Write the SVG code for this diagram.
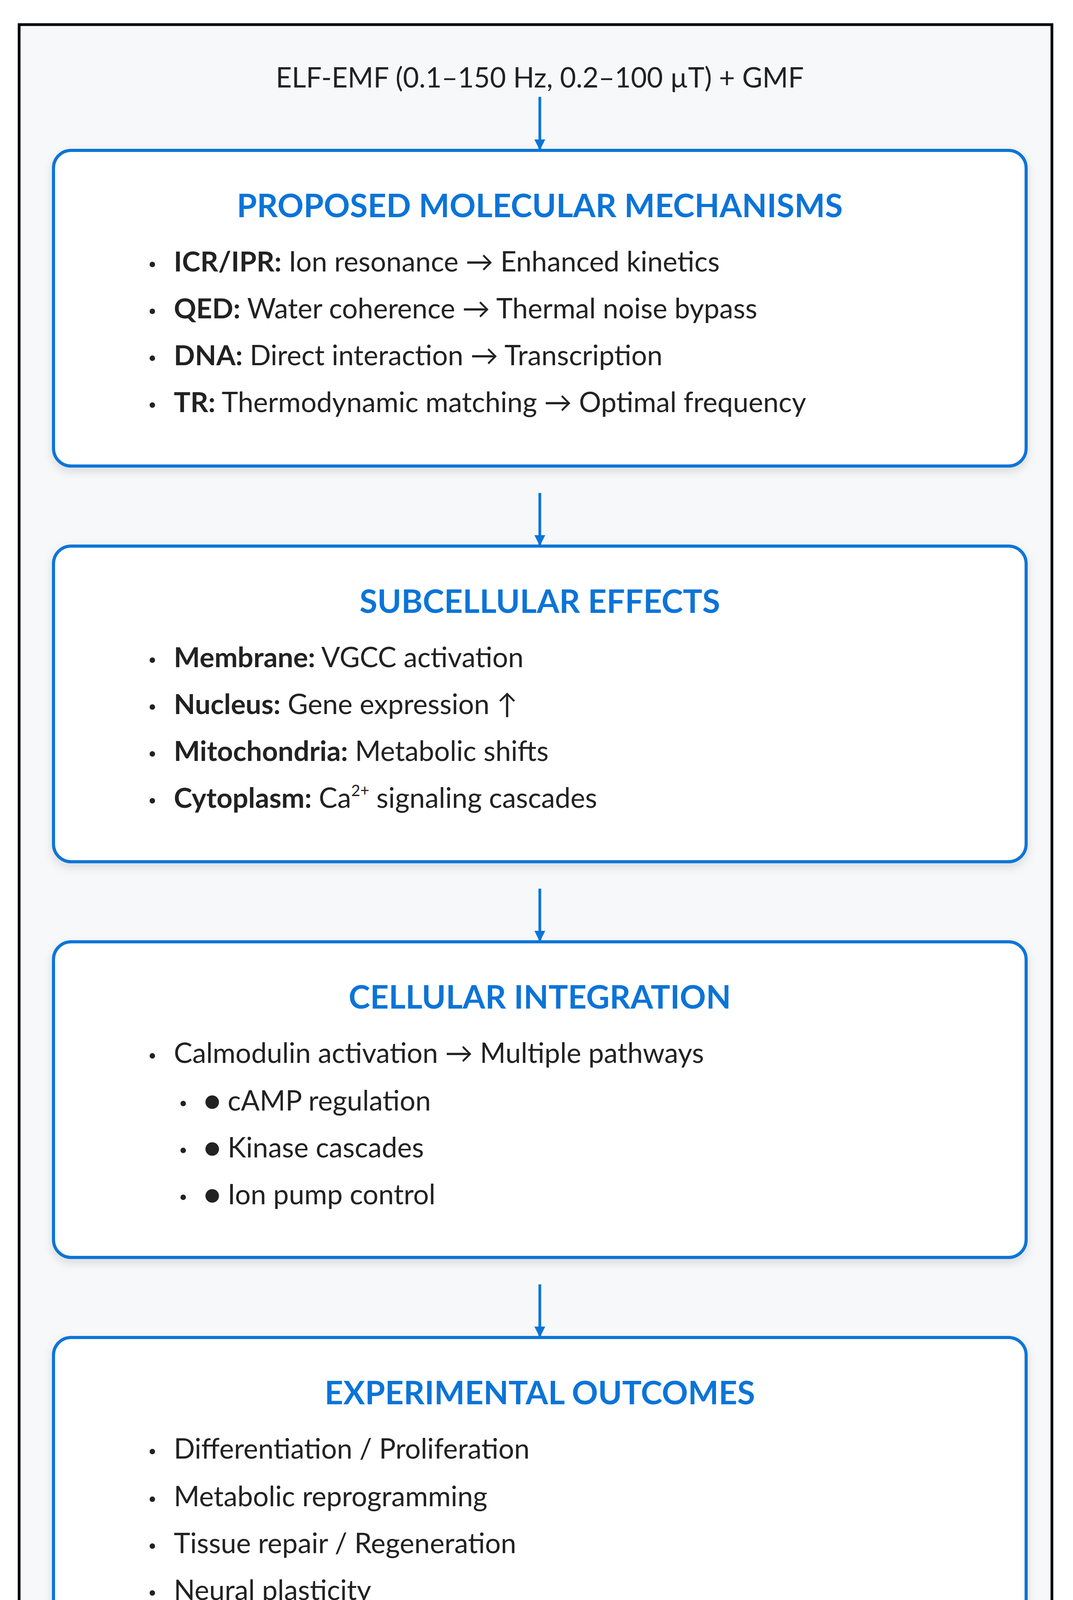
<svg xmlns="http://www.w3.org/2000/svg" width="2747" height="4349" viewBox="0 0 2747 4349">
<style>
.box{fill:#fff;stroke:#0b74d8;stroke-width:8;filter:url(#sh)}
.h{font-family:Lato,"Open Sans",sans-serif;font-weight:700;font-size:83px;fill:#0b74d8;text-anchor:middle}
.t{font-family:Lato,"Open Sans",sans-serif;font-size:71px;fill:#222}
.b{font-weight:700}
.d{fill:#222}
.c{stroke:#0b74d8;stroke-width:7;fill:none;marker-end:url(#ar)}
</style>
<defs>
<marker id="ar" viewBox="0 0 10 10" refX="9" refY="5" markerWidth="4" markerHeight="4" orient="auto" markerUnits="strokeWidth"><path d="M0,0L10,5L0,10z" fill="#0b74d8"/></marker>
<filter id="sh" x="-5%" y="-5%" width="110%" height="115%"><feDropShadow dx="0" dy="10" stdDeviation="12" flood-color="#000" flood-opacity="0.12"/></filter>
</defs>
<rect x="0" y="0" width="2747" height="4349" fill="#fff"/>
<rect x="49" y="63" width="2644" height="4240" fill="#f7f8fa" stroke="#000" stroke-width="7"/>
<text x="1382" y="224" class="t" font-size="80" text-anchor="middle" fill="#333">ELF-EMF (0.1–150 Hz, 0.2–100 µT) + GMF</text>
<g id="connectors">
<line x1="1382" y1="248" x2="1382" y2="382" class="c"/>
<line x1="1382" y1="1262" x2="1382" y2="1395" class="c"/>
<line x1="1382" y1="2275" x2="1382" y2="2408" class="c"/>
<line x1="1382" y1="3288" x2="1382" y2="3421" class="c"/>
</g>
<g id="mechanisms">
<rect class="box" x="137" y="385" width="2490" height="808" rx="45"/>
<text class="h" x="1382" y="556">PROPOSED MOLECULAR MECHANISMS</text>
<g class="t">
<circle class="d" cx="390" cy="677" r="7"/><text x="445" y="695"><tspan class="b">ICR/IPR:</tspan> Ion resonance → Enhanced kinetics</text>
<circle class="d" cx="390" cy="797" r="7"/><text x="445" y="815"><tspan class="b">QED:</tspan> Water coherence → Thermal noise bypass</text>
<circle class="d" cx="390" cy="917" r="7"/><text x="445" y="935"><tspan class="b">DNA:</tspan> Direct interaction → Transcription</text>
<circle class="d" cx="390" cy="1037" r="7"/><text x="445" y="1055"><tspan class="b">TR:</tspan> Thermodynamic matching → Optimal frequency</text>
</g>
</g>
<g id="subcellular">
<rect class="box" x="137" y="1398" width="2490" height="808" rx="45"/>
<text class="h" x="1382" y="1569">SUBCELLULAR EFFECTS</text>
<g class="t">
<circle class="d" cx="390" cy="1690" r="7"/><text x="445" y="1708"><tspan class="b">Membrane:</tspan> VGCC activation</text>
<circle class="d" cx="390" cy="1810" r="7"/><text x="445" y="1828"><tspan class="b">Nucleus:</tspan> Gene expression ↑</text>
<circle class="d" cx="390" cy="1930" r="7"/><text x="445" y="1948"><tspan class="b">Mitochondria:</tspan> Metabolic shifts</text>
<circle class="d" cx="390" cy="2050" r="7"/><text x="445" y="2068"><tspan class="b">Cytoplasm:</tspan> Ca<tspan font-size="40" dy="-30">2+</tspan><tspan dy="30"> signaling cascades</tspan></text>
</g>
</g>
<g id="integration">
<rect class="box" x="137" y="2411" width="2490" height="808" rx="45"/>
<text class="h" x="1382" y="2582">CELLULAR INTEGRATION</text>
<g class="t">
<circle class="d" cx="390" cy="2703" r="7"/><text x="445" y="2721">Calmodulin activation → Multiple pathways</text>
<circle class="d" cx="469" cy="2825" r="7"/><text x="522" y="2843">● cAMP regulation</text>
<circle class="d" cx="469" cy="2945" r="7"/><text x="522" y="2963">● Kinase cascades</text>
<circle class="d" cx="469" cy="3065" r="7"/><text x="522" y="3083">● Ion pump control</text>
</g>
</g>
<g id="outcomes">
<rect class="box" x="137" y="3424" width="2490" height="808" rx="45"/>
<text class="h" x="1382" y="3595">EXPERIMENTAL OUTCOMES</text>
<g class="t">
<circle class="d" cx="390" cy="3716" r="7"/><text x="445" y="3734">Differentiation / Proliferation</text>
<circle class="d" cx="390" cy="3838" r="7"/><text x="445" y="3856">Metabolic reprogramming</text>
<circle class="d" cx="390" cy="3958" r="7"/><text x="445" y="3976">Tissue repair / Regeneration</text>
<circle class="d" cx="390" cy="4078" r="7"/><text x="445" y="4096">Neural plasticity</text>
</g>
</g>
</svg>
